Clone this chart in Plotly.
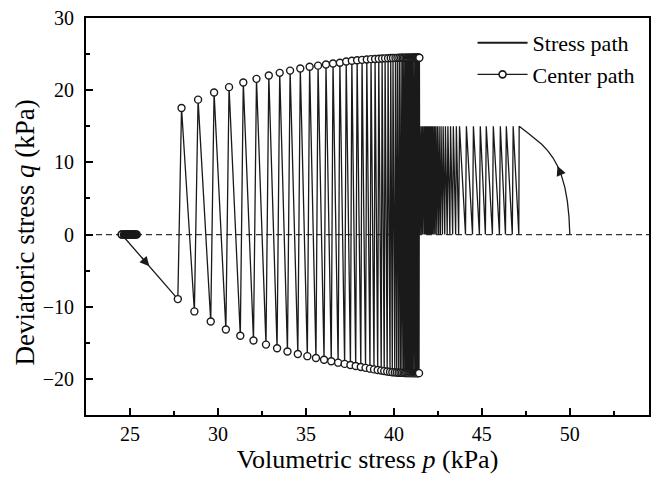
import plotly.graph_objects as go

# ---- data ----
# loading curve at the right end of the stress path
curve_p = [50.0, 49.95, 49.86, 49.72, 49.52, 49.3, 49.05, 48.75, 48.4, 48.0, 47.6, 47.12]
curve_q = [0.0, 2.5, 4.6, 6.5, 8.2, 9.5, 10.6, 11.6, 12.5, 13.35, 14.1, 15.0]

# zigzag between q=15 and q=0 (tops and bottoms), right to left
zig_top_p = [47.12, 46.78, 46.39, 46.05, 45.65, 45.25, 44.91, 44.52, 44.12, 43.73,
             43.55, 43.38, 43.22, 43.07, 42.93, 42.80, 42.68, 42.57, 42.47, 42.38,
             42.30, 42.22, 42.15, 42.08, 42.02, 41.96, 41.90, 41.85, 41.80, 41.75,
             41.70, 41.66, 41.62, 41.58, 41.54, 41.50]
zig_bot_p = [47.10, 46.73, 46.34, 46.00, 45.60, 45.20, 44.86, 44.47, 44.07, 43.68,
             43.51, 43.34, 43.18, 43.03, 42.89, 42.76, 42.64, 42.54, 42.44, 42.35,
             42.27, 42.19, 42.12, 42.05, 41.99, 41.93, 41.87, 41.82, 41.77, 41.72,
             41.67, 41.63, 41.59, 41.55, 41.51, 41.47]
zig_top_q = 15.0
zig_bot_q = 0.0

# large cyclic oscillation: peaks and troughs, left to right
peak_p = [27.93, 28.87, 29.78, 30.63, 31.44, 32.19, 32.89, 33.51, 34.10, 34.68,
          35.21, 35.69, 36.14, 36.54, 36.93, 37.29, 37.61, 37.91, 38.19, 38.46,
          38.70, 38.93, 39.14, 39.33, 39.50, 39.67, 39.82, 39.95, 40.09, 40.20,
          40.31, 40.41, 40.50, 40.58, 40.66, 40.73, 40.80, 40.86, 40.92, 40.97,
          41.02, 41.07, 41.11, 41.15, 41.19, 41.23, 41.27, 41.30, 41.33, 41.36,
          41.39, 41.42, 41.45]
peak_q = [17.54, 18.69, 19.67, 20.42, 21.06, 21.57, 22.03, 22.40, 22.71, 23.00,
          23.24, 23.40, 23.56, 23.70, 23.80, 23.97, 24.07, 24.15, 24.20, 24.25,
          24.30, 24.33, 24.36, 24.39, 24.41, 24.43, 24.45, 24.46, 24.47, 24.48,
          24.49, 24.49, 24.49, 24.50, 24.50, 24.50, 24.50, 24.50, 24.50, 24.50,
          24.50, 24.50, 24.50, 24.50, 24.50, 24.50, 24.50, 24.50, 24.50, 24.50,
          24.50, 24.50, 24.50]
trough_p = [27.72, 28.66, 29.59, 30.45, 31.27, 32.02, 32.73, 33.36, 33.95, 34.54,
            35.08, 35.57, 36.03, 36.44, 36.83, 37.20, 37.53, 37.83, 38.12, 38.39,
            38.64, 38.87, 39.08, 39.28, 39.45, 39.62, 39.78, 39.91, 40.05, 40.16,
            40.27, 40.37, 40.46, 40.55, 40.63, 40.70, 40.77, 40.83, 40.89, 40.95,
            41.00, 41.05, 41.09, 41.13, 41.17, 41.21, 41.25, 41.28, 41.31, 41.34,
            41.37, 41.40, 41.43]
trough_q = [-8.94, -10.65, -12.04, -13.15, -14.03, -14.68, -15.25, -15.75, -16.20, -16.55,
            -16.85, -17.10, -17.35, -17.55, -17.75, -17.92, -18.08, -18.22, -18.35, -18.47,
            -18.58, -18.68, -18.77, -18.85, -18.92, -18.98, -19.03, -19.07, -19.10, -19.12,
            -19.14, -19.15, -19.16, -19.17, -19.18, -19.18, -19.19, -19.19, -19.20, -19.20,
            -19.20, -19.20, -19.20, -19.20, -19.20, -19.20, -19.20, -19.20, -19.20, -19.20,
            -19.20, -19.20, -19.20]

# start point of stress path and center path
start_p, start_q = 24.53, 0.0
center_p = [24.53, 24.66, 24.72, 24.78, 24.84, 24.90, 24.96, 25.02, 25.08, 25.14,
            25.20, 25.26, 25.32, 25.38]
center_q = [0.0] * len(center_p)

x_ticks = [25, 30, 35, 40, 45, 50]
y_ticks = [-20, -10, 0, 10, 20, 30]

# ---- build stress path (order: start -> oscillation -> zigzag -> curve) ----
sp_x, sp_y = [start_p], [start_q]
for tp, tq, pp, pq in zip(trough_p, trough_q, peak_p, peak_q):
    sp_x += [tp, pp]
    sp_y += [tq, pq]
for tp, bp in zip(reversed(zig_top_p), reversed(zig_bot_p)):
    sp_x += [bp, tp]
    sp_y += [zig_bot_q, zig_top_q]
sp_x += list(reversed(curve_p))
sp_y += list(reversed(curve_q))

FONT = "Liberation Serif"
INK = "#1a1a1a"
fig = go.Figure()

fig.add_hline(y=0, line=dict(color="#333333", width=1.2, dash="6px,4px"), layer="below")

fig.add_trace(go.Scatter(x=sp_x, y=sp_y, mode="lines", name="Stress path", showlegend=False,
                         line=dict(color=INK, width=1.3)))
# legend entry for the stress path (drawn thicker, as in the reference legend)
fig.add_trace(go.Scatter(x=[None], y=[None], mode="lines", name="Stress path",
                         line=dict(color=INK, width=2.2)))

ext_x = [start_p]
ext_y = [start_q]
for tp, tq, pp, pq in zip(trough_p, trough_q, peak_p, peak_q):
    ext_x += [tp, pp]
    ext_y += [tq, pq]
fig.add_trace(go.Scatter(x=ext_x, y=ext_y, mode="markers", showlegend=False,
                         marker=dict(symbol="circle", size=7, color="white",
                                     line=dict(color=INK, width=1.4))))

fig.add_trace(go.Scatter(x=center_p, y=center_q, mode="lines+markers", name="Center path",
                         line=dict(color=INK, width=1.3),
                         marker=dict(symbol="circle", size=7, color="white",
                                     line=dict(color=INK, width=1.6))))
# overlapping cluster of center points reads as a solid dark blob
fig.add_trace(go.Scatter(x=center_p[1:], y=center_q[1:], mode="markers", showlegend=False,
                         marker=dict(symbol="circle", size=6.5, color=INK,
                                     line=dict(color=INK, width=1))))

# arrows
fig.add_annotation(x=26.1, y=-4.40, ax=25.6, ay=-3.0, xref="x", yref="y", axref="x", ayref="y",
                   showarrow=True, arrowhead=2, arrowsize=1.6, arrowwidth=1.2,
                   arrowcolor=INK, text="")
fig.add_annotation(x=49.3, y=9.5, ax=49.52, ay=8.2, xref="x", yref="y", axref="x", ayref="y",
                   showarrow=True, arrowhead=2, arrowsize=1.6, arrowwidth=1.2,
                   arrowcolor=INK, text="")

# y-axis title as a rotated text label centred near q = 0
fig.add_annotation(text="Deviatoric stress <i>q</i> (kPa)", textangle=-90,
                   xref="paper", x=0, xshift=-61, xanchor="center",
                   yref="y", y=0.3, yanchor="middle", showarrow=False,
                   font=dict(family=FONT, size=27, color="black"))

axis_common = dict(showline=True, linecolor="black", linewidth=2, mirror=True,
                   ticks="inside", ticklen=7, tickwidth=1.5, tickcolor="black",
                   showgrid=False, zeroline=False,
                   tickfont=dict(family=FONT, size=20, color="black"))

fig.update_xaxes(range=[22.5, 54.5], tickvals=x_ticks,
                 minor=dict(ticks="inside", ticklen=4, tickwidth=1.5, tickcolor="black",
                            dtick=2.5, tick0=22.5, showgrid=False),
                 title=dict(text="Volumetric stress <i>p</i> (kPa)",
                            font=dict(family=FONT, size=26, color="black"), standoff=4),
                 ticklabelstandoff=0, **axis_common)
fig.update_yaxes(range=[-25, 30], tickvals=y_ticks,
                 minor=dict(ticks="inside", ticklen=4, tickwidth=1.5, tickcolor="black",
                            dtick=5, tick0=-25, showgrid=False),
                 ticklabelstandoff=6, **axis_common)

fig.update_layout(width=655, height=490,
                  margin=dict(l=86, r=4, t=18, b=75),
                  plot_bgcolor="white", paper_bgcolor="white",
                  font=dict(family=FONT, size=20, color="black"),
                  legend=dict(x=0.985, y=0.99, xanchor="right", yanchor="top",
                              bgcolor="rgba(0,0,0,0)", tracegroupgap=0,
                              font=dict(family=FONT, size=22, color="black"),
                              itemwidth=50))

fig.write_html("out.html")
